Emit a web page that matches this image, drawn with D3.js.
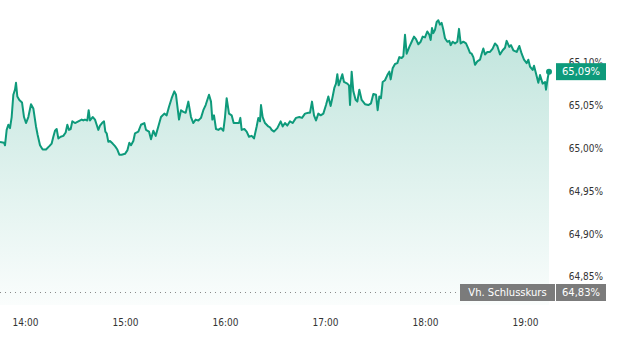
<!DOCTYPE html>
<html>
<head>
<meta charset="utf-8">
<script src="https://cdn.jsdelivr.net/npm/d3@7"></script>
<style>
  html, body { margin: 0; padding: 0; background: #fff; }
  svg { display: block; }
  .axis text { font-family: "DejaVu Sans Condensed", "DejaVu Sans", sans-serif; font-size: 10px; fill: #333; }
</style>
</head>
<body>
<svg id="chart"></svg>
<script>
// intraday quote, minutes after session start
const sessionStart = "13:45";
const sessionEnd = "19:15";
const minutes = [
  0, 2.4, 3, 4, 5, 6, 7, 8, 9, 9.6, 10.4, 11.6, 13.2, 14.4, 15.6, 17, 18.6, 20, 21.6, 22.6,
  24, 25.6, 27.6, 29.6, 31, 32, 33, 34, 35, 36.4, 38, 39.4, 40.4, 41.4, 42.4, 43.4, 45, 47, 49, 50,
  51, 52.4, 53.2, 54, 55.6, 57, 58, 59, 60, 61.2, 62.4, 63.2, 64, 65, 66, 67.6, 69, 70.4, 71.6, 73,
  75, 76.4, 77.6, 78.6, 80, 81, 83, 84.6, 86.6, 87.6, 89.4, 90.6, 92, 93.4, 95, 96.6, 98.6, 100, 101.4, 103,
  104.6, 105.6, 107.4, 108.6, 110, 111.4, 113, 114.6, 116, 117.4, 119, 120.6, 122, 123.4, 125.4, 126.6, 127.4, 128.4, 129.6, 131,
  132.6, 134, 135, 136, 137.4, 139, 140.2, 142, 143.4, 144.2, 145, 146.6, 148, 149.4, 151, 152.4, 154, 155, 156, 156.6,
  157.6, 159, 161, 162, 163, 164.4, 166.4, 168.4, 169.6, 171, 172.4, 174, 175.6, 177.6, 179.6, 181.2, 183, 185, 186, 187.2,
  188.4, 189.6, 191, 192.4, 194, 195.6, 197, 198.4, 199.6, 200.6, 201.6, 202.4, 203.2, 204.4, 205.4, 206.4, 208.4, 209.4, 210, 211,
  212, 213.4, 214.4, 215.6, 217, 219, 221, 222.6, 224, 225.6, 226.6, 227.6, 228.6, 229.6, 231, 232.4, 233.6, 234.4, 235.6, 237,
  238.4, 239.6, 241, 242, 243, 244, 245.6, 247, 248.4, 249.6, 251, 252.4, 253.6, 255, 256.4, 257.6, 258.4, 259.2, 260, 261,
  262, 263, 264, 265, 266, 267, 268.4, 269.6, 270.4, 271.6, 273, 274.4, 275.4, 276.4, 278, 279.6, 281, 282, 283, 284,
  285, 286.4, 288, 289, 290, 291, 292.4, 294, 295.6, 297, 298.4, 300, 301.6, 303, 304, 305.6, 306.6, 308, 310, 311.6,
  313, 314.4, 316, 317, 318, 319.6, 320.4, 321.6, 323, 324, 325.6, 327, 327.6, 328.6, 329.4
];
const values = [
  65.006, 65.005, 65.002, 65.020, 65.026, 65.022, 65.035, 65.061, 65.067, 65.075, 65.059, 65.055, 65.052, 65.035, 65.028, 65.035, 65.050, 65.045, 65.024, 65.014,
  65.002, 64.997, 64.997, 65.001, 65.004, 65.012, 65.019, 65.021, 65.010, 65.012, 65.013, 65.017, 65.026, 65.020, 65.021, 65.030, 65.028, 65.030, 65.032, 65.031,
  65.032, 65.031, 65.043, 65.031, 65.035, 65.032, 65.026, 65.020, 65.025, 65.028, 65.030, 65.018, 65.016, 65.006, 65.007, 65.004, 65.001, 64.997, 64.991, 64.991,
  64.992, 64.996, 65.005, 65.002, 65.007, 65.016, 65.018, 65.026, 65.028, 65.020, 65.018, 65.009, 65.019, 65.013, 65.024, 65.035, 65.039, 65.037, 65.047, 65.057,
  65.065, 65.061, 65.032, 65.043, 65.041, 65.040, 65.053, 65.035, 65.028, 65.032, 65.031, 65.034, 65.043, 65.049, 65.061, 65.053, 65.032, 65.037, 65.021, 65.020,
  65.022, 65.019, 65.035, 65.057, 65.039, 65.037, 65.028, 65.028, 65.028, 65.034, 65.020, 65.021, 65.018, 65.012, 65.013, 65.010, 65.024, 65.034, 65.030, 65.049,
  65.035, 65.028, 65.024, 65.023, 65.020, 65.018, 65.022, 65.030, 65.024, 65.028, 65.025, 65.030, 65.028, 65.034, 65.035, 65.034, 65.039, 65.040, 65.040, 65.053,
  65.037, 65.031, 65.039, 65.037, 65.039, 65.049, 65.059, 65.048, 65.059, 65.069, 65.074, 65.085, 65.072, 65.079, 65.085, 65.076, 65.074, 65.072, 65.049, 65.088,
  65.065, 65.055, 65.053, 65.067, 65.055, 65.050, 65.049, 65.051, 65.062, 65.061, 65.043, 65.059, 65.057, 65.076, 65.078, 65.084, 65.088, 65.079, 65.092, 65.097,
  65.098, 65.105, 65.104, 65.106, 65.131, 65.109, 65.117, 65.123, 65.129, 65.126, 65.120, 65.123, 65.129, 65.128, 65.135, 65.131, 65.125, 65.139, 65.133, 65.137,
  65.146, 65.148, 65.143, 65.145, 65.137, 65.127, 65.123, 65.124, 65.119, 65.123, 65.121, 65.123, 65.138, 65.121, 65.123, 65.121, 65.115, 65.110, 65.109, 65.105,
  65.096, 65.100, 65.102, 65.109, 65.115, 65.108, 65.111, 65.111, 65.115, 65.121, 65.118, 65.108, 65.113, 65.116, 65.124, 65.117, 65.119, 65.113, 65.111, 65.118,
  65.109, 65.102, 65.098, 65.102, 65.094, 65.090, 65.095, 65.086, 65.075, 65.084, 65.074, 65.076, 65.067, 65.080, 65.088
];
const xTicks = ["14:00", "15:00", "16:00", "17:00", "18:00", "19:00"];
const yTicks = [64.85, 64.90, 64.95, 65.00, 65.05, 65.10];
const prevClose = 64.83;
const prevCloseLabel = "Vh. Schlusskurs";

const width = 623, height = 345;
const lineColor = "#0e9a7b";

const day = "2024-01-01T";
const parseT = d3.timeParse("%Y-%m-%dT%H:%M");
const t0 = parseT(day + sessionStart);
const points = minutes.map((m, i) => ({ t: new Date(+t0 + m * 60000), v: values[i] }));

const x = d3.scaleTime()
  .domain([t0, parseT(day + sessionEnd)])
  .range([0, 550]);

const y = d3.scaleLinear()
  .domain([prevClose, 65.10])
  .range([292.5, 61.4]);

const de = d3.formatLocale({ decimal: ",", thousands: ".", grouping: [3], currency: ["", "€"] });
const pct = v => de.format(".2f")(v) + "%";

const svg = d3.select("#chart").attr("width", width).attr("height", height);

const grad = svg.append("defs").append("linearGradient")
  .attr("id", "fill").attr("x1", 0).attr("y1", 0).attr("x2", 0).attr("y2", 1);
grad.append("stop").attr("offset", 0).attr("stop-color", lineColor).attr("stop-opacity", 0.27);
grad.append("stop").attr("offset", 1).attr("stop-color", lineColor).attr("stop-opacity", 0.02);

const area = d3.area()
  .x(d => x(d.t))
  .y0(305)
  .y1(d => y(d.v));

svg.append("path")
  .datum(points)
  .attr("d", area)
  .attr("fill", "url(#fill)");

// previous close
svg.append("line")
  .attr("x1", 0).attr("x2", 458)
  .attr("y1", y(prevClose)).attr("y2", y(prevClose))
  .attr("stroke", "#8a8a8a")
  .attr("stroke-width", 1)
  .attr("stroke-dasharray", "1,4");

const line = d3.line()
  .x(d => x(d.t))
  .y(d => y(d.v));

svg.append("path")
  .datum(points)
  .attr("d", line)
  .attr("fill", "none")
  .attr("stroke", lineColor)
  .attr("stroke-width", 2)
  .attr("stroke-linejoin", "round");

// axes
const xAxis = d3.axisBottom(x)
  .tickValues(xTicks.map(s => parseT(day + s)))
  .tickFormat(d3.timeFormat("%H:%M"))
  .tickSize(0)
  .tickPadding(5);

svg.append("g")
  .attr("class", "axis")
  .attr("transform", "translate(0,314)")
  .call(xAxis)
  .call(g => g.select(".domain").remove());

const yAxis = d3.axisLeft(y)
  .tickValues(yTicks)
  .tickFormat(pct)
  .tickSize(0)
  .tickPadding(0);

svg.append("g")
  .attr("class", "axis")
  .attr("transform", "translate(603,0)")
  .call(yAxis)
  .call(g => g.select(".domain").remove())
  .call(g => g.selectAll("text").attr("dy", "0.45em"));

// last value
const last = points[points.length - 1];
svg.append("circle")
  .attr("cx", x(last.t)).attr("cy", y(last.v))
  .attr("r", 3)
  .attr("fill", lineColor);

function badge(x0, w, cy, fill, text) {
  svg.append("rect")
    .attr("x", x0).attr("y", cy - 8.5)
    .attr("width", w).attr("height", 17)
    .attr("fill", fill);
  svg.append("text")
    .attr("x", x0 + w / 2).attr("y", cy)
    .attr("dy", "0.36em")
    .attr("text-anchor", "middle")
    .attr("font-family", "DejaVu Sans, sans-serif")
    .attr("font-size", 10)
    .attr("fill", "#fff")
    .text(text);
}

badge(556, 50, y(last.v), lineColor, pct(last.v));
badge(460, 95, y(prevClose), "#7b7b7b", prevCloseLabel);
badge(556, 50, y(prevClose), "#7b7b7b", pct(prevClose));
</script>
</body>
</html>
